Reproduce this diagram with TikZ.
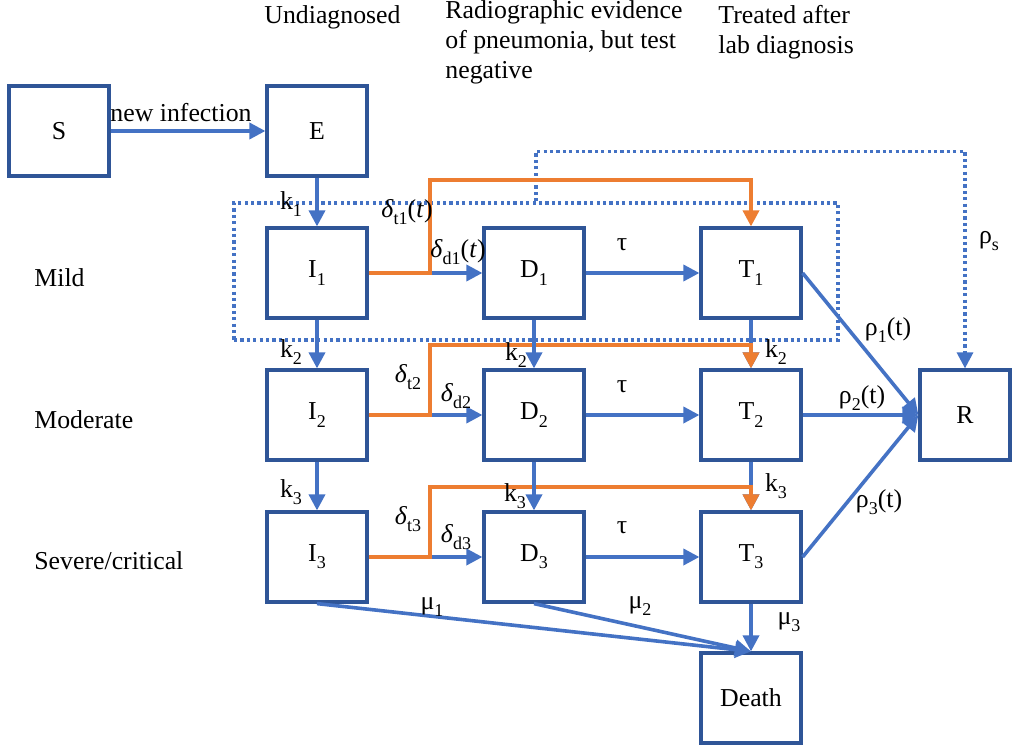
\documentclass[tikz,border=0pt]{standalone}
\usepackage{fontspec}
\setmainfont{Liberation Serif}
\newfontfamily\tnr{Liberation Serif}
\usetikzlibrary{arrows.meta,calc}
\definecolor{boxblue}{HTML}{2F5597}
\definecolor{ablue}{HTML}{4472C4}
\definecolor{aorange}{HTML}{ED7D31}
\newcommand\sbs[1]{\raisebox{-0.6ex}{\fontsize{9}{9}\selectfont #1}}
\tikzset{
  box/.style={draw=boxblue, line width=1.6pt, minimum width=50pt, minimum height=45pt, inner sep=0pt, fill=white},
  arr/.style={draw=ablue, line width=1.8pt, -{Triangle[length=8pt,width=8pt]}},
  oarr/.style={draw=aorange, line width=1.8pt, -{Triangle[length=8pt,width=8pt]}},
  dotline/.style={draw=ablue, line width=1.6pt, dash pattern=on 1.6pt off 1.6pt},
  dotarr/.style={dotline, -{Triangle[length=8pt,width=8pt]}},
  lbl/.style={inner sep=0pt},
  toplbl/.style={inner sep=0pt, anchor=north west, align=left}
}
\begin{document}
\begin{tikzpicture}[x=0.5pt,y=-0.5pt,font=\tnr\fontsize{12.9}{15}\selectfont]
\useasboundingbox (0,0) rectangle (1012,749);
% zone
\node[dotline, minimum width=302pt, minimum height=68.5pt, inner sep=0pt] (zone) at (536,271.5) {};
% boxes
\node[box] (S) at (59,131) {S};
\node[box] (E) at (317,131) {E};
\node[box] (I1) at (317,273) {I\sbs{1}};
\node[box] (D1) at (534,273) {D\sbs{1}};
\node[box] (T1) at (751,273) {T\sbs{1}};
\node[box] (I2) at (317,415) {I\sbs{2}};
\node[box] (D2) at (534,415) {D\sbs{2}};
\node[box] (T2) at (751,415) {T\sbs{2}};
\node[box] (I3) at (317,557) {I\sbs{3}};
\node[box] (D3) at (534,557) {D\sbs{3}};
\node[box] (T3) at (751,557) {T\sbs{3}};
\node[box, minimum width=45pt] (R) at (965,415) {R};
\node[box] (Death) at (751,698) {Death};
% top labels
\node[toplbl] (h1) at (264,5) {Undiagnosed};
\node[toplbl] (h2) at (445,0) {Radiographic evidence\\of pneumonia, but test\\negative};
\node[toplbl] (h3) at (718,5) {Treated after\\lab diagnosis};
% row labels
\node[lbl, anchor=west] (r1) at (34,278) {Mild};
\node[lbl, anchor=west] (r2) at (34,420) {Moderate};
\node[lbl, anchor=west] (r3) at (34,561) {Severe/critical};
% corner coordinates
\coordinate (c1) at (430,180);
\coordinate (c2) at (430,345);
\coordinate (c3) at (430,487);
% rho_s
\draw[dotarr] (zone.north) -- ++(0,-50) -| (R.north);
% horizontal blue
\draw[arr] (S) -- (E);
\draw[arr] (I1) -- (D1);
\draw[arr] (D1) -- (T1);
\draw[arr] (I2) -- (D2);
\draw[arr] (D2) -- (T2);
\draw[arr] (I3) -- (D3);
\draw[arr] (D3) -- (T3);
% T verticals
\draw[arr] (T1) -- (T2);
\draw[arr] (T2) -- (T3);
% orange
\draw[oarr] (I1.east) -| (c1) -| (T1.north);
\draw[oarr] (I2.east) -| (c2) -| (T2.north);
\draw[oarr] (I3.east) -| (c3) -| (T3.north);
% I, D verticals
\draw[arr] (E) -- (I1);
\draw[arr] (I1) -- (I2);
\draw[arr] (I2) -- (I3);
\draw[arr] (D1) -- (D2);
\draw[arr] (D2) -- (D3);
% to R
\draw[arr] (T1.east) -- (R.west);
\draw[arr] (T2.east) -- (R.west);
\draw[arr] (T3.east) -- (R.west);
% to Death
\draw[arr] (I3.south) -- (Death.north);
\draw[arr] (D3.south) -- (Death.north);
\draw[arr] (T3.south) -- (Death.north);
% edge labels
\node[lbl] (lnew) at (181,113) {new infection};
\node[lbl] (lk1) at (291,204) {k\sbs{1}};
\node[lbl] (lk2a) at (291,352) {k\sbs{2}};
\node[lbl] (lk3a) at (291,492) {k\sbs{3}};
\node[lbl] (lk2b) at (516,355) {k\sbs{2}};
\node[lbl] (lk3b) at (515,496) {k\sbs{3}};
\node[lbl] (lk2c) at (776,352) {k\sbs{2}};
\node[lbl] (lk3c) at (776,486) {k\sbs{3}};
\node[lbl] (ldt1) at (407,212) {\textit{δ}\sbs{t1}(\textit{t})};
\node[lbl] (ldd1) at (458,252) {\textit{δ}\sbs{d1}(\textit{t})};
\node[lbl] (ldt2) at (408,377) {\textit{δ}\sbs{t2}};
\node[lbl] (ldd2) at (456,396) {\textit{δ}\sbs{d2}};
\node[lbl] (ldt3) at (408,519) {\textit{δ}\sbs{t3}};
\node[lbl] (ldd3) at (456,537) {\textit{δ}\sbs{d3}};
\node[lbl] (lta1) at (622,245) {τ};
\node[lbl] (lta2) at (622,387) {τ};
\node[lbl] (lta3) at (622,528) {τ};
\node[lbl] (lr1) at (888,330) {ρ\sbs{1}(t)};
\node[lbl] (lr2) at (862,398) {ρ\sbs{2}(t)};
\node[lbl] (lr3) at (879,502) {ρ\sbs{3}(t)};
\node[lbl] (lrs) at (989,241) {ρ\sbs{s}};
\node[lbl] (lm1) at (432,607) {μ\sbs{1}};
\node[lbl] (lm2) at (640,606) {μ\sbs{2}};
\node[lbl] (lm3) at (789,622) {μ\sbs{3}};
\end{tikzpicture}
\end{document}
